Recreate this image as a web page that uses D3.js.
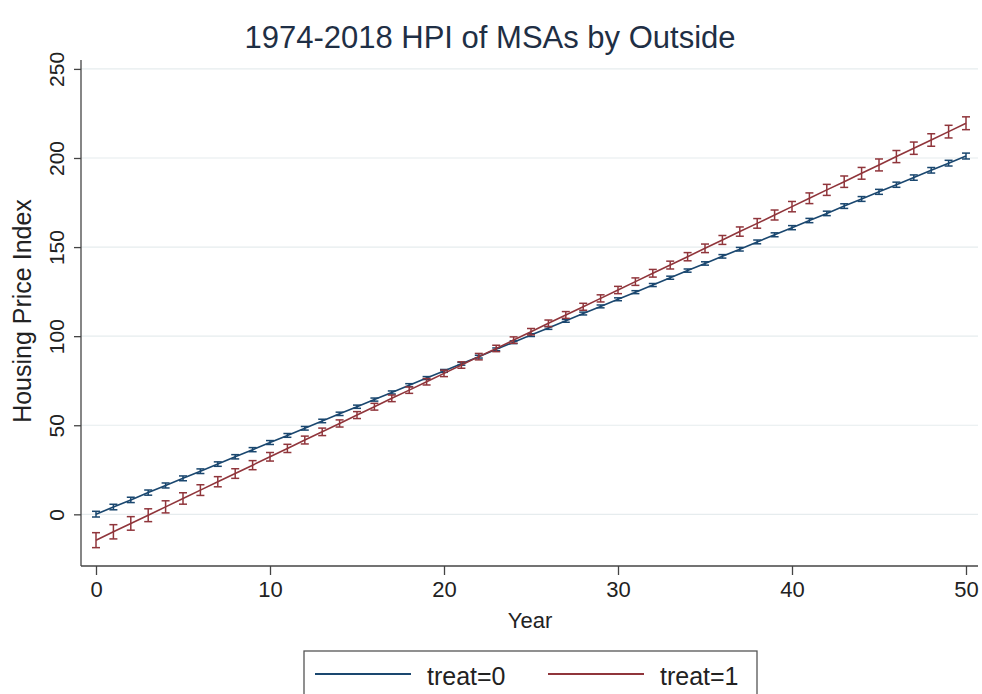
<!DOCTYPE html>
<html>
<head>
<meta charset="utf-8">
<script src="https://cdn.jsdelivr.net/npm/d3@7"></script>
<style>
  body { margin: 0; background: #fff; }
  text { font-family: "Liberation Sans", Arial, sans-serif; }
</style>
</head>
<body>
<script>
// data
const years = d3.range(0, 51);
const treat0 = [0.1, 4.1, 8.1, 12.2, 16.2, 20.2, 24.2, 28.2, 32.3, 36.3,
  40.3, 44.3, 48.3, 52.4, 56.4, 60.4, 64.4, 68.4, 72.5, 76.5,
  80.5, 84.5, 88.5, 92.6, 96.6, 100.6, 104.6, 108.6, 112.7, 116.7,
  120.7, 124.7, 128.7, 132.8, 136.8, 140.8, 144.8, 148.8, 152.9, 156.9,
  160.9, 164.9, 168.9, 173.0, 177.0, 181.0, 185.0, 189.0, 193.1, 197.1, 201.1];
const treat1 = [-14.5, -9.8, -5.1, -0.5, 4.2, 8.9, 13.6, 18.3, 22.9, 27.6,
  32.3, 37.0, 41.7, 46.3, 51.0, 55.7, 60.4, 65.1, 69.7, 74.4,
  79.1, 83.8, 88.5, 93.1, 97.8, 102.5, 107.2, 111.9, 116.5, 121.2,
  125.9, 130.6, 135.3, 139.9, 144.6, 149.3, 154.0, 158.7, 163.3, 168.0,
  172.7, 177.4, 182.1, 186.7, 191.4, 196.1, 200.8, 205.5, 210.1, 214.8, 219.5];
// half widths of the confidence bars
const ci0 = [1.6, 1.55, 1.5, 1.45, 1.4, 1.35, 1.3, 1.25, 1.2, 1.15, 1.1, 1.06, 1.02, 0.98, 0.94, 0.9, 0.87,
  0.85, 0.83, 0.81, 0.8, 0.79, 0.78, 0.78, 0.78, 0.78, 0.78, 0.78, 0.79, 0.8, 0.81, 0.83, 0.85, 0.87,
  0.9, 0.94, 0.98, 1.02, 1.06, 1.1, 1.15, 1.2, 1.25, 1.3, 1.35, 1.4, 1.45, 1.5, 1.55, 1.6, 1.65];
const ci1 = [4.2, 4.0, 3.8, 3.6, 3.4, 3.2, 3.0, 2.85, 2.7, 2.55, 2.4, 2.3, 2.2, 2.1, 2.0, 1.95, 1.9,
  1.85, 1.8, 1.8, 1.8, 1.8, 1.8, 1.8, 1.8, 1.8, 1.85, 1.9, 1.95, 2.0, 2.05, 2.1, 2.15, 2.2,
  2.3, 2.4, 2.5, 2.6, 2.7, 2.8, 2.9, 3.0, 3.1, 3.2, 3.3, 3.35, 3.4, 3.45, 3.5, 3.55, 3.6];
const xTicks = [0, 10, 20, 30, 40, 50];
const yTicks = [0, 50, 100, 150, 200, 250];
const seriesNames = ["treat=0", "treat=1"];
const colors = ["#1a476f", "#90353b"];

const W = 982, H = 694;
const svg = d3.select("body").append("svg").attr("width", W).attr("height", H);

let x = d3.scaleLinear().domain([0, 50]).range([96, 966]);
let y = d3.scaleLinear().domain([-29, 255]).range([566, 60]);
const plotL = 81, plotR = 978, plotT = 60, plotB = 566;

// gridlines
svg.append("g").selectAll("line").data(yTicks).enter().append("line")
  .attr("x1", plotL).attr("x2", plotR)
  .attr("y1", d => y(d)).attr("y2", d => y(d))
  .attr("stroke", "#e6ecee").attr("stroke-width", 1.2);

// axes
const yAxis = svg.append("g").attr("transform", `translate(${plotL},0)`)
  .call(d3.axisLeft(y).tickValues(yTicks).tickSize(7).tickPadding(10));
yAxis.select(".domain").attr("d", `M0,${plotT}V${plotB}`);
yAxis.selectAll("text").attr("transform", "rotate(-90)")
  .attr("x", 0).attr("y", -17).attr("dy", 0)
  .attr("text-anchor", "middle").style("font-size", "21px").attr("fill", "#222");

const xAxis = svg.append("g").attr("transform", `translate(0,${plotB})`)
  .call(d3.axisBottom(x).tickValues(xTicks).tickSize(9).tickPadding(6));
xAxis.select(".domain").attr("d", `M${plotL},0H${plotR}`);
xAxis.selectAll("text").style("font-size", "22px").attr("fill", "#222");
svg.selectAll(".domain, .tick line").attr("stroke", "#444").attr("stroke-width", 1.3);

// series
const line = d3.line().x((d, i) => x(years[i])).y(d => y(d));
[[treat0, ci0], [treat1, ci1]].forEach(([vals, ci], k) => {
  const g = svg.append("g");
  g.append("path").datum(vals).attr("d", line)
    .attr("fill", "none").attr("stroke", colors[k]).attr("stroke-width", 1.6);
  const caps = g.selectAll("g.cap").data(vals).enter().append("g").attr("class", "cap");
  caps.append("line")
    .attr("x1", (d, i) => x(years[i])).attr("x2", (d, i) => x(years[i]))
    .attr("y1", (d, i) => y(d - ci[i])).attr("y2", (d, i) => y(d + ci[i]));
  caps.append("line")
    .attr("x1", (d, i) => x(years[i]) - 4).attr("x2", (d, i) => x(years[i]) + 4)
    .attr("y1", (d, i) => y(d - ci[i])).attr("y2", (d, i) => y(d - ci[i]));
  caps.append("line")
    .attr("x1", (d, i) => x(years[i]) - 4).attr("x2", (d, i) => x(years[i]) + 4)
    .attr("y1", (d, i) => y(d + ci[i])).attr("y2", (d, i) => y(d + ci[i]));
  caps.selectAll("line").attr("stroke", colors[k]).attr("stroke-width", 1.5);
});

// titles
svg.append("text").attr("x", 490).attr("y", 48).attr("text-anchor", "middle")
  .style("font-size", "31px").attr("fill", "#1f2f45")
  .text("1974-2018 HPI of MSAs by Outside");
svg.append("text").attr("x", 530).attr("y", 628).attr("text-anchor", "middle")
  .style("font-size", "22px").attr("fill", "#222").text("Year");
svg.append("text").attr("transform", "translate(31,311) rotate(-90)")
  .attr("text-anchor", "middle").style("font-size", "25px").attr("fill", "#222")
  .text("Housing Price Index");

// legend
const lg = svg.append("g");
lg.append("rect").attr("x", 304).attr("y", 651).attr("width", 453).attr("height", 60)
  .attr("fill", "#fff").attr("stroke", "#555").attr("stroke-width", 1.3);
const lx = [315, 548];
seriesNames.forEach((n, k) => {
  lg.append("line").attr("x1", lx[k]).attr("x2", lx[k] + 96)
    .attr("y1", 674).attr("y2", 674).attr("stroke", colors[k]).attr("stroke-width", 1.8);
  lg.append("text").attr("x", lx[k] + 112).attr("y", 685)
    .style("font-size", "25px").attr("fill", "#222").text(n);
});
</script>
</body>
</html>
